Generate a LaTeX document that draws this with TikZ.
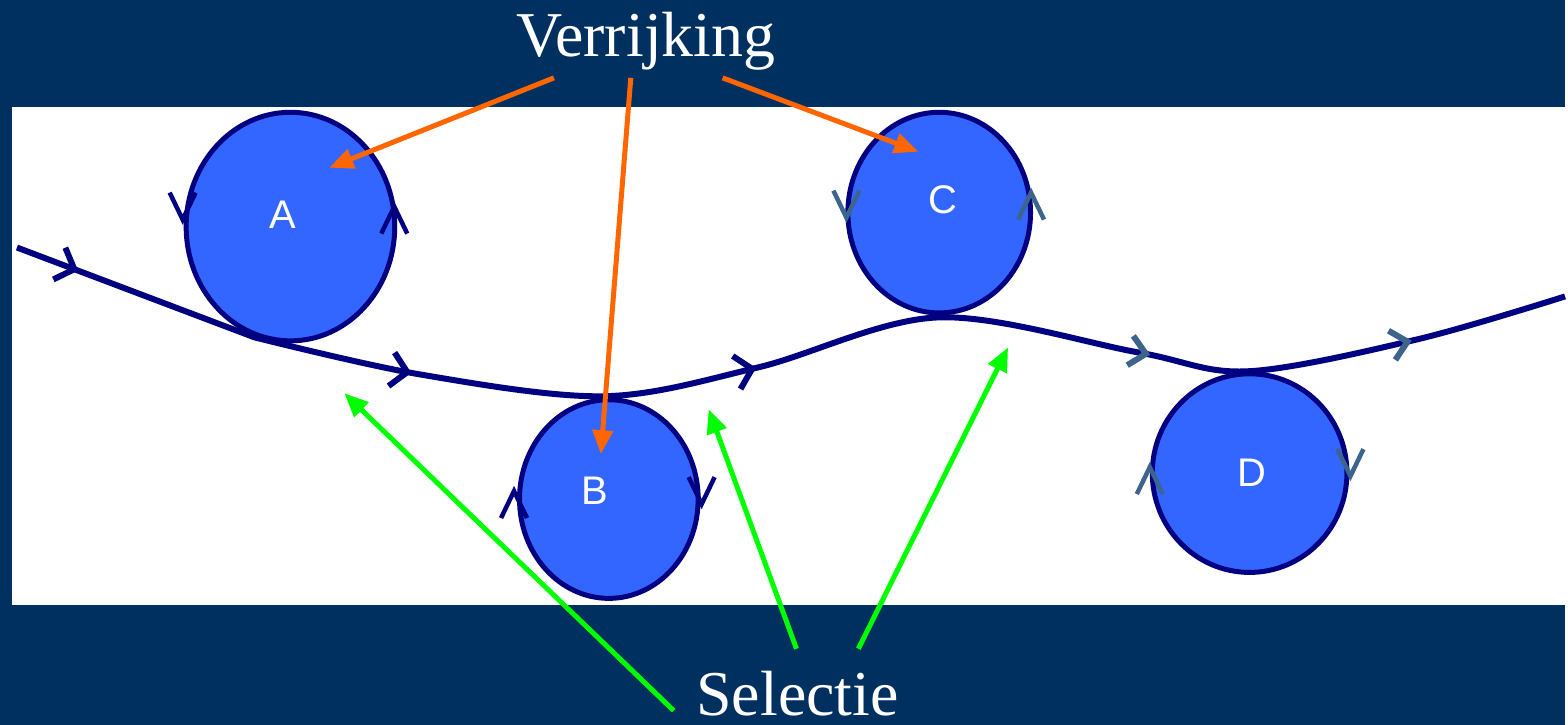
\documentclass[tikz,border=0pt]{standalone}
\usepackage{fontspec}
\setmainfont{Liberation Serif}
\newfontfamily\lettersans{Liberation Sans}
\usepackage{tikz}
\usetikzlibrary{shapes.geometric, arrows.meta, decorations.markings}
\definecolor{slideblue}{RGB}{0, 48, 96}
\definecolor{ballblue}{RGB}{51, 102, 255}
\definecolor{pathnavy}{RGB}{0, 0, 128}
\definecolor{markgray}{RGB}{60, 100, 140}
\definecolor{enrichorange}{RGB}{255, 102, 0}
\definecolor{selectgreen}{RGB}{0, 255, 0}

\begin{document}
\begin{tikzpicture}[x=1pt, y=-1pt,
    ball/.style={ellipse, draw=pathnavy, line width=5pt, fill=ballblue, inner sep=0pt},
    balltext/.style={text=white, font=\lettersans\fontsize{40}{40}\selectfont},
    title/.style={text=white, anchor=base, inner sep=0pt, font=\fontsize{64}{64}\selectfont},
    chevron/.style={line width=4.5pt},
    enrich/.style={enrichorange, line width=5pt, -{Triangle[length=24pt, width=20pt]}},
    select/.style={selectgreen, line width=5pt, -{Triangle[length=24pt, width=20pt]}}]
% Slide background and white band
\fill[slideblue] (0,0) rectangle (1568,726);
\fill[white] (12,107) rectangle (1568,606);

% Path along the balls
\draw[pathnavy, line width=6pt,
    decoration={markings,
        mark=at position 0.041 with {\arrow[pathnavy]{Straight Barb[length=16pt, width=34pt]}},
        mark=at position 0.26 with {\arrow[pathnavy]{Straight Barb[length=16pt, width=34pt]}},
        mark=at position 0.479 with {\arrow[pathnavy]{Straight Barb[length=16pt, width=34pt]}},
        mark=at position 0.733 with {\arrow[markgray]{Straight Barb[length=16pt, width=30pt]}},
        mark=at position 0.90 with {\arrow[markgray]{Straight Barb[length=16pt, width=30pt]}}},
    postaction={decorate}]
    (17,248) -- (255,338)
    plot[smooth, tension=0.55] coordinates {(255,338) (420,375) (605,397) (760,368)
        (940,318) (1140,353) (1250,372) (1420,340) (1568,297)};

% Balls
\foreach \name/\cx/\cy/\rx/\ry/\lx/\ly in {A/291/227/107/117/283/215, B/610/500/92/102/596/492,
        C/941/213/94/103/945/200, D/1252/474/100/102/1254/474} {
    \node[ball, minimum width=2*\rx-5, minimum height=2*\ry-5] (\name) at (\cx,\cy) {};
    \node[balltext] (l\name) at (\lx,\ly) {\name};
}

% Rotation marks on the balls
\foreach \tx/\ty/\d/\col in {183/220/-1/pathnavy, 395/207/1/pathnavy, 515/492/1/pathnavy,
        703/505/-1/pathnavy, 848/218/-1/markgray, 1033/193/1/markgray,
        1152/468/1/markgray, 1353/477/-1/markgray} {
    \draw[chevron, \col] (\tx-13,\ty+\d*27) -- (\tx,\ty) -- (\tx+13,\ty+\d*27);
}

% Titles
\node[title] (verr) at (647,57) {Verrijking};
\node[title] (sel) at (799,717) {Selectie};

% Enrichment arrows
\coordinate (v1) at (555,78);
\coordinate (v2) at (632,78);
\coordinate (v3) at (724,78);
\coordinate (tA) at (330,168);
\coordinate (tB) at (602,455);
\coordinate (tC) at (920,152);
\draw[enrich] (v1) -- (tA);
\draw[enrich] (v2) -- (tB);
\draw[enrich] (v3) -- (tC);

% Selection arrows
\coordinate (s1) at (675,712);
\coordinate (s2) at (798,650);
\coordinate (s3) at (860,650);
\coordinate (p1) at (345,394);
\coordinate (p2) at (710,410);
\coordinate (p3) at (1010,348);
\draw[select] (s1) -- (p1);
\draw[select] (s2) -- (p2);
\draw[select] (s3) -- (p3);
\end{tikzpicture}
\end{document}
